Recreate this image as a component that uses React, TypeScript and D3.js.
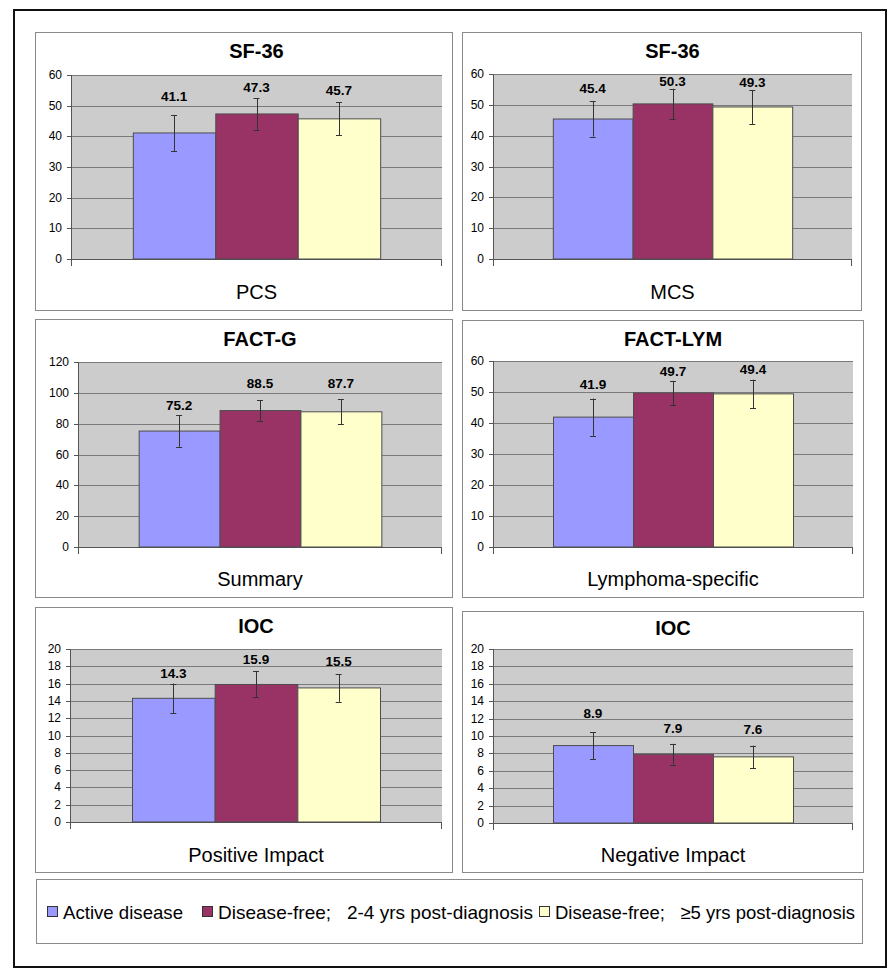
import React from 'react';
import * as d3 from 'd3';

const groups = ['Active disease', 'Disease-free;   2-4 yrs post-diagnosis', 'Disease-free;   ≥5 yrs post-diagnosis'];
const titles = ['SF-36', 'SF-36', 'FACT-G', 'FACT-LYM', 'IOC', 'IOC'];
const categories = ['PCS', 'MCS', 'Summary', 'Lymphoma-specific', 'Positive Impact', 'Negative Impact'];
const yMax = [60, 60, 120, 60, 20, 20];
const yStep = [10, 10, 20, 10, 2, 2];
const means = [
  [41.1, 47.3, 45.7],
  [45.4, 50.3, 49.3],
  [75.2, 88.5, 87.7],
  [41.9, 49.7, 49.4],
  [14.3, 15.9, 15.5],
  [8.9, 7.9, 7.6],
];
const errors = [
  [5.9, 5.2, 5.4],
  [5.7, 4.9, 5.5],
  [10.2, 6.8, 8.0],
  [6.0, 3.9, 4.6],
  [1.7, 1.5, 1.6],
  [1.55, 1.2, 1.3],
];
// data-unit height at which each value label is centred
const labelAt = [
  [53.1, 55.8, 54.8],
  [55.2, 57.6, 57.3],
  [91.9, 106.2, 106.2],
  [52.4, 56.5, 57.2],
  [17.2, 18.8, 18.6],
  [12.6, 10.9, 10.8],
];

const colors = ['#9999FF', '#993366', '#FFFFCC'];

const layout = [
  { box: [35, 32, 452, 310], plot: [71, 75, 442, 259], titleY: 51, catY: 292 },
  { box: [462, 32, 861, 310], plot: [493, 74, 852, 259], titleY: 51, catY: 292 },
  { box: [35, 319, 452, 597], plot: [78, 362, 442, 547], titleY: 339, catY: 579 },
  { box: [462, 320, 863, 597], plot: [493, 361, 853, 547], titleY: 339, catY: 579 },
  { box: [35, 607, 452, 872], plot: [70, 649, 442, 822], titleY: 626, catY: 855 },
  { box: [462, 611, 863, 872], plot: [493, 649, 853, 823], titleY: 628, catY: 855 },
];

const legendX = [47, 202, 539];
const legendW = [120, 315, 300];

const FONT = '"Liberation Sans", Arial, Helvetica, sans-serif';

function Panel({ i }: { i: number }) {
  const L = layout[i];
  const [bx0, by0, bx1, by1] = L.box;
  const [px0, py0, px1, py1] = L.plot;
  const y = d3.scaleLinear().domain([0, yMax[i]]).range([py1, py0]);
  const x = d3
    .scaleBand<number>()
    .domain([0, 1, 2])
    .range([px0, px1])
    .paddingInner(0)
    .paddingOuter(0.75);
  const ticks = d3.range(0, yMax[i] + yStep[i] / 2, yStep[i]);
  const bw = x.bandwidth();
  return (
    <g>
      <rect x={bx0 + 0.5} y={by0 + 0.5} width={bx1 - bx0} height={by1 - by0} fill="#fff" stroke="#8a8a8a" strokeWidth={1} />
      <text x={(px0 + px1) / 2} y={L.titleY} textAnchor="middle" dominantBaseline="central" fontFamily={FONT} fontWeight="bold" fontSize={20} fill="#000">
        {titles[i]}
      </text>
      <rect x={px0} y={py0} width={px1 - px0} height={py1 - py0} fill="#CCCCCC" />
      {ticks.map((t) => (
        <g key={t}>
          {t > 0 && <line x1={px0} x2={px1} y1={Math.round(y(t)) + 0.5} y2={Math.round(y(t)) + 0.5} stroke="#7a7a7a" strokeWidth={1} />}
          <line x1={px0 - 4} x2={px0} y1={Math.round(y(t)) + 0.5} y2={Math.round(y(t)) + 0.5} stroke="#555" strokeWidth={1} />
          <text x={px0 - 9} y={y(t)} textAnchor="end" dominantBaseline="central" fontFamily={FONT} fontSize={12} fill="#000">
            {t}
          </text>
        </g>
      ))}
      <line x1={px0 + 0.5} x2={px0 + 0.5} y1={py0} y2={py1 + 7} stroke="#555" strokeWidth={1} />
      <line x1={px0} x2={px1} y1={py1 + 0.5} y2={py1 + 0.5} stroke="#555" strokeWidth={1} />
      <line x1={px1 - 0.5} x2={px1 - 0.5} y1={py1} y2={py1 + 7} stroke="#555" strokeWidth={1} />
      {means[i].map((v, j) => {
        const xb = x(j) as number;
        const cx = xb + bw / 2;
        const e = errors[i][j];
        return (
          <g key={j}>
            <rect x={xb + 0.5} y={y(v)} width={bw} height={py1 - y(v)} fill={colors[j]} stroke="#4d4d4d" strokeWidth={1} />
            <line x1={Math.round(cx) + 0.5} x2={Math.round(cx) + 0.5} y1={y(v + e)} y2={y(v - e)} stroke="#333" strokeWidth={1} />
            <line x1={cx - 3} x2={cx + 3} y1={Math.round(y(v + e)) + 0.5} y2={Math.round(y(v + e)) + 0.5} stroke="#333" strokeWidth={1} />
            <line x1={cx - 3} x2={cx + 3} y1={Math.round(y(v - e)) + 0.5} y2={Math.round(y(v - e)) + 0.5} stroke="#333" strokeWidth={1} />
            <text x={cx} y={y(labelAt[i][j])} textAnchor="middle" dominantBaseline="central" fontFamily={FONT} fontWeight="bold" fontSize={13.5} fill="#000">
              {v.toFixed(1)}
            </text>
          </g>
        );
      })}
      <text x={(px0 + px1) / 2} y={L.catY} textAnchor="middle" dominantBaseline="central" fontFamily={FONT} fontSize={20} fill="#000">
        {categories[i]}
      </text>
    </g>
  );
}

export default function App() {
  return (
    <svg width={896} height={974} style={{ position: 'absolute', left: 0, top: 0, background: '#fff' }}>
      <rect x={0} y={0} width={896} height={974} fill="#fff" />
      <rect x={14} y={10} width={872} height={957} fill="#fff" stroke="#111" strokeWidth={2} />
      {layout.map((_, i) => (
        <Panel key={i} i={i} />
      ))}
      <rect x={36.5} y={879.5} width={826} height={64} fill="#fff" stroke="#8a8a8a" strokeWidth={1} />
      {groups.map((g, j) => (
        <g key={j}>
          <rect x={legendX[j] + 0.5} y={906.5} width={10} height={10} fill={colors[j]} stroke="#333" strokeWidth={1} />
          <text x={legendX[j] + 16} y={912} dominantBaseline="central" fontFamily={FONT} fontSize={19} fill="#000" textLength={legendW[j]} lengthAdjust="spacingAndGlyphs" style={{ whiteSpace: 'pre' }}>
            {g}
          </text>
        </g>
      ))}
    </svg>
  );
}
